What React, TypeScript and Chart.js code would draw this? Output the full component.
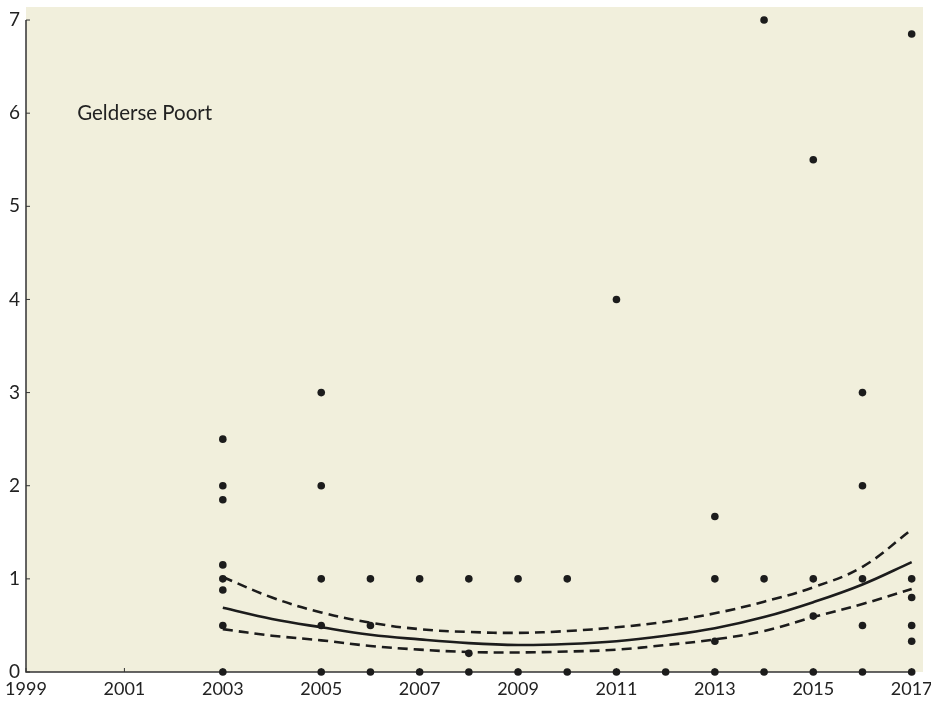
import React, { useEffect, useRef } from 'react';
import { Chart, registerables } from 'chart.js';

Chart.register(...registerables);

const regionLabel = 'Gelderse Poort';

const xTickValues = [1999, 2001, 2003, 2005, 2007, 2009, 2011, 2013, 2015, 2017];
const yTickValues = [0, 1, 2, 3, 4, 5, 6, 7];

const pointYears = [
  2003, 2003, 2003, 2003, 2003, 2003, 2003, 2003,
  2005, 2005, 2005, 2005, 2005,
  2006, 2006, 2006,
  2007, 2007,
  2008, 2008, 2008,
  2009, 2009,
  2010, 2010,
  2011, 2011,
  2012,
  2013, 2013, 2013, 2013,
  2014, 2014, 2014,
  2015, 2015, 2015, 2015,
  2016, 2016, 2016, 2016, 2016,
  2017, 2017, 2017, 2017, 2017, 2017,
];
const pointValues = [
  2.5, 2.0, 1.85, 1.15, 1.0, 0.88, 0.5, 0,
  3.0, 2.0, 1.0, 0.5, 0,
  1.0, 0.5, 0,
  1.0, 0,
  1.0, 0.2, 0,
  1.0, 0,
  1.0, 0,
  4.0, 0,
  0,
  1.67, 1.0, 0.33, 0,
  7.0, 1.0, 0,
  5.5, 1.0, 0.6, 0,
  3.0, 2.0, 1.0, 0.5, 0,
  6.85, 1.0, 0.8, 0.5, 0.33, 0,
];

const curveYears = [2003, 2004, 2005, 2006, 2007, 2008, 2009, 2010, 2011, 2012, 2013, 2014, 2015, 2016, 2017];
const fitValues = [0.69, 0.57, 0.48, 0.4, 0.35, 0.31, 0.29, 0.3, 0.33, 0.39, 0.47, 0.59, 0.75, 0.94, 1.18];
const upperValues = [1.02, 0.8, 0.64, 0.53, 0.46, 0.43, 0.42, 0.44, 0.48, 0.54, 0.63, 0.755, 0.91, 1.13, 1.53];
const lowerValues = [0.46, 0.39, 0.34, 0.28, 0.24, 0.215, 0.21, 0.22, 0.24, 0.29, 0.35, 0.44, 0.59, 0.73, 0.89];

const BG = '#f1efdc';
const INK = '#1c1c1c';
const FONT = 'Lato, "Open Sans", sans-serif';

const decorPlugin = {
  id: 'decor',
  beforeDraw(chart: any) {
    const { ctx, chartArea: a } = chart;
    ctx.save();
    ctx.fillStyle = BG;
    ctx.fillRect(a.left, a.top, a.right - a.left, a.bottom - a.top);
    ctx.restore();
  },
  beforeDatasetsDraw(chart: any) {
    const { ctx } = chart;
    const xs = chart.scales.x;
    const ys = chart.scales.y;
    const x0 = xs.getPixelForValue(xTickValues[0]);
    const x1 = xs.getPixelForValue(xTickValues[xTickValues.length - 1]);
    const y0 = ys.getPixelForValue(yTickValues[0]);
    const y1 = ys.getPixelForValue(yTickValues[yTickValues.length - 1]);
    ctx.save();
    ctx.strokeStyle = '#333';
    ctx.lineWidth = 1.5;
    ctx.beginPath();
    ctx.moveTo(x0, y1);
    ctx.lineTo(x0, y0);
    ctx.lineTo(x1, y0);
    ctx.stroke();
    ctx.lineWidth = 1;
    ctx.beginPath();
    yTickValues.forEach((v) => {
      const py = ys.getPixelForValue(v);
      ctx.moveTo(x0, py);
      ctx.lineTo(x0 + 4, py);
    });
    xTickValues.forEach((v) => {
      const px = xs.getPixelForValue(v);
      ctx.moveTo(px, y0);
      ctx.lineTo(px, y0 - 4);
    });
    ctx.stroke();
    ctx.fillStyle = '#222';
    ctx.font = `20.5px ${FONT}`;
    ctx.textAlign = 'left';
    ctx.textBaseline = 'middle';
    ctx.fillText(regionLabel, xs.getPixelForValue(2000.04), ys.getPixelForValue(6));
    ctx.restore();
  },
};

export default function App() {
  const canvasRef = useRef<HTMLCanvasElement | null>(null);

  useEffect(() => {
    if (!canvasRef.current) return;
    const scatterData = pointYears.map((x, i) => ({ x, y: pointValues[i] }));
    const mk = (vals: number[]) => curveYears.map((x, i) => ({ x, y: vals[i] }));
    const lineBase = {
      type: 'line',
      borderColor: INK,
      borderWidth: 2.6,
      pointRadius: 0,
      tension: 0.4,
      fill: false,
      clip: false,
    };
    const chart = new Chart(canvasRef.current, {
      type: 'scatter',
      data: {
        datasets: [
          {
            type: 'scatter',
            data: scatterData,
            backgroundColor: INK,
            borderColor: INK,
            pointRadius: 3.8,
            pointHoverRadius: 3.8,
            borderWidth: 0,
            clip: false,
            order: 0,
          } as any,
          { ...lineBase, data: mk(fitValues), order: 1 } as any,
          { ...lineBase, data: mk(upperValues), borderDash: [10, 6], order: 2 } as any,
          { ...lineBase, data: mk(lowerValues), borderDash: [10, 6], order: 3 } as any,
        ],
      },
      options: {
        animation: false,
        responsive: false,
        layout: { padding: { top: 7, right: 8, left: 0, bottom: 0 } },
        plugins: { legend: { display: false }, tooltip: { enabled: false }, title: { display: false } },
        events: [],
        scales: {
          x: {
            type: 'linear',
            min: 1999,
            max: 2017.23,
            border: { display: false },
            grid: { display: false, drawTicks: false },
            afterBuildTicks: (s: any) => {
              s.ticks = xTickValues.map((value) => ({ value }));
            },
            afterFit: (s: any) => {
              s.height = 30;
              s.paddingLeft = 0;
              s.paddingRight = 0;
            },
            ticks: {
              autoSkip: false,
              maxRotation: 0,
              padding: 6,
              color: '#222',
              font: { family: FONT, size: 18 },
              callback: (v: any) => String(v),
            },
          },
          y: {
            type: 'linear',
            min: 0,
            max: 7.14,
            border: { display: false },
            grid: { display: false, drawTicks: false },
            afterBuildTicks: (s: any) => {
              s.ticks = yTickValues.map((value) => ({ value }));
            },
            afterFit: (s: any) => {
              s.width = 26;
              s.paddingTop = 0;
              s.paddingBottom = 0;
            },
            ticks: {
              autoSkip: false,
              padding: 6,
              color: '#222',
              font: { family: FONT, size: 19 },
              callback: (v: any) => String(v),
            },
          },
        },
      },
      plugins: [decorPlugin],
    });
    return () => chart.destroy();
  }, []);

  return (
    <div style={{ position: 'absolute', left: 0, top: 0, width: 931, height: 702, background: '#fff' }}>
      <canvas ref={canvasRef} width={931} height={702} style={{ display: 'block' }} />
    </div>
  );
}
